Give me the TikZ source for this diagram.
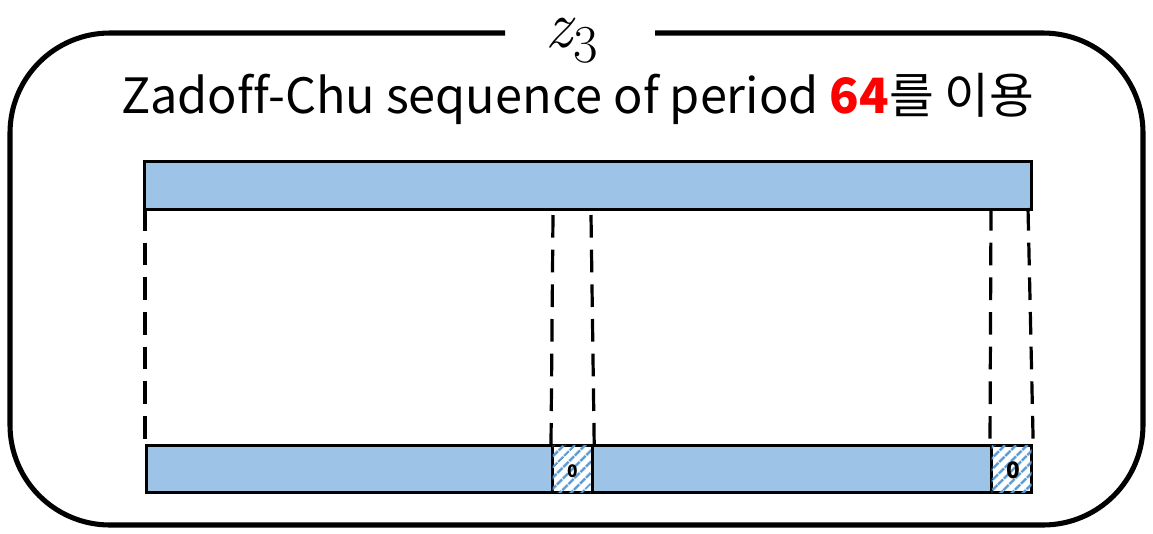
\documentclass[tikz,border=0pt]{standalone}
\usepackage{fontspec}
\setmainfont[Ligatures={NoCommon}]{Noto Sans CJK KR}
\newfontfamily\lmfont{Latin Modern Roman}
\usetikzlibrary{patterns.meta}
\definecolor{barblue}{HTML}{9DC3E6}
\definecolor{hatchblue}{HTML}{5B9BD5}
\begin{document}
\begin{tikzpicture}[x=0.75pt,y=-0.75pt,
  frame/.style={line width=3.8pt},
  bar/.style={fill=barblue,draw=black,line width=2.4pt},
  hatchbox/.style={draw=black,line width=2.4pt,fill=white,
    postaction={pattern={Lines[angle=45,distance=6.5pt,line width=2.2pt]},pattern color=hatchblue}},
  guide/.style={line width=2.4pt,dash pattern=on 17pt off 9pt},
  zerolab/.style={inner sep=0pt,font=\bfseries}]
\useasboundingbox (0,0) rectangle (1153,533);
% outer rounded frame, open at the top for the title
\coordinate (gapL) at (505,33);
\coordinate (gapR) at (655,33);
\draw[frame,rounded corners=75pt] (gapL) -- (10,33) -- (10,525) -- (1143,525) -- (1143,33) -- (gapR);
\node[inner sep=0pt] (title) at (572,41) {\lmfont{\fontsize{50}{50}\selectfont\itshape z}\kern1pt\raisebox{-11pt}{\fontsize{40}{40}\selectfont 3}};
\node (caption) at (578,99) {\fontsize{36.5}{36.5}\selectfont Zadoff-Chu sequence of period \textcolor{red}{\textbf{64}}를 이용};
% upper sequence
\node[bar,minimum width=665pt,minimum height=36pt,inner sep=0pt,anchor=north west] (top) at (143,160) {};
% lower sequence
\node[bar,minimum width=304.5pt,minimum height=35pt,inner sep=0pt,anchor=north west] (b1) at (145,444) {};
\node[hatchbox,minimum width=30pt,minimum height=35pt,inner sep=0pt,anchor=north west] (h1) at (551,444) {};
\node[bar,minimum width=299.25pt,minimum height=35pt,inner sep=0pt,anchor=north west] (b2) at (591,444) {};
\node[hatchbox,minimum width=30pt,minimum height=35pt,inner sep=0pt,anchor=north west] (h2) at (990,444) {};
\node[zerolab,font=\fontsize{13}{13}\selectfont\bfseries] (z1) at ([yshift=-2pt]h1.center) {0};
\node[zerolab,font=\fontsize{17}{17}\selectfont\bfseries] (z2) at ([xshift=1pt,yshift=-1pt]h2.center) {0};
% dashed guides
\coordinate (t1) at (145,208);
\coordinate (t2) at (553,215);
\coordinate (t3) at (591,215);
\coordinate (t4) at (991,208);
\coordinate (t5) at (1028,208);
\draw[guide] (t1) -- (b1.north west);
\draw[guide] (t2) -- (h1.north west);
\draw[guide] (t3) -- (h1.north east);
\draw[guide] (t4) -- (h2.north west);
\draw[guide] (t5) -- (h2.north east);
\end{tikzpicture}
\end{document}
